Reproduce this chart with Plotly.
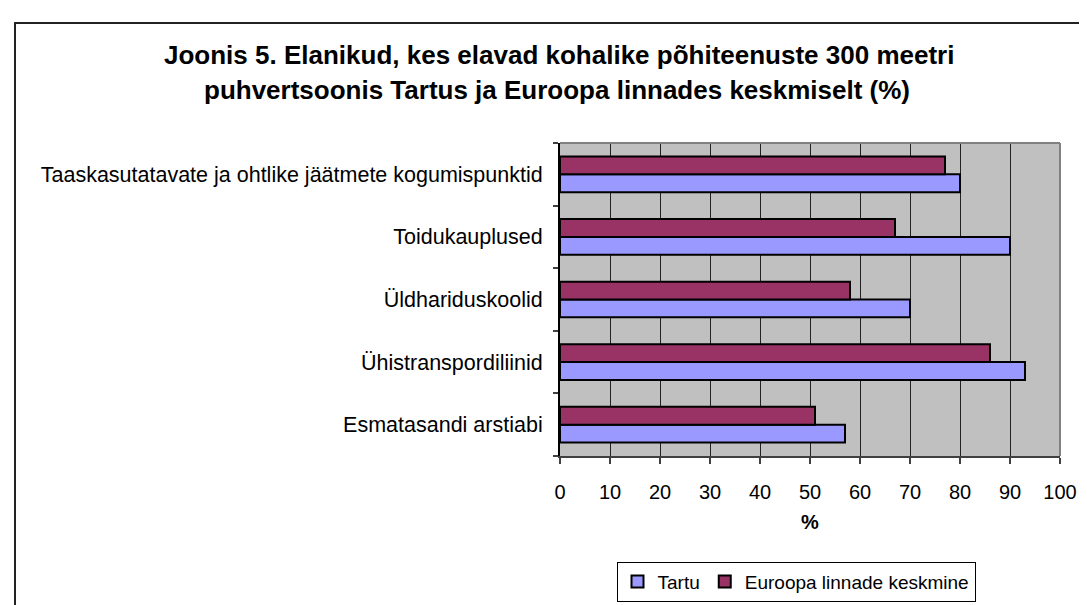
import plotly.graph_objects as go

categories = [
    "Esmatasandi arstiabi",
    "Ühistranspordiliinid",
    "Üldhariduskoolid",
    "Toidukauplused",
    "Taaskasutatavate ja ohtlike jäätmete kogumispunktid",
]
tartu = [57, 93, 70, 90, 80]
europe = [51, 86, 58, 67, 77]
x_ticks = [0, 10, 20, 30, 40, 50, 60, 70, 80, 90, 100]

FONT = "Arial, 'Liberation Sans', sans-serif"

fig = go.Figure()
fig.add_trace(go.Bar(
    y=categories, x=tartu, orientation="h", name="Tartu",
    marker=dict(color="#9999FF", line=dict(color="#000000", width=2)),
))
fig.add_trace(go.Bar(
    y=categories, x=europe, orientation="h", name="Euroopa linnade keskmine",
    marker=dict(color="#993366", line=dict(color="#000000", width=2)),
))

# pixel helpers (plot area: x 552..1052, y 135..461)
def px(xp):
    return (xp - 552) / 500.0

def py(yp):
    return (461 - yp) / 326.0

fig.update_layout(
    width=1087, height=605,
    margin=dict(l=552, r=35, t=135, b=144, pad=0),
    paper_bgcolor="white",
    plot_bgcolor="#C0C0C0",
    barmode="group",
    bargap=0.43,
    bargroupgap=0,
    font=dict(family=FONT, size=20, color="#000000"),
    showlegend=True,
    legend=dict(
        orientation="h",
        x=px(788), xanchor="center",
        y=py(571), yanchor="top",
        bordercolor="#000000", borderwidth=1,
        bgcolor="white",
        font=dict(family=FONT, size=19),
        traceorder="normal",
        itemwidth=30,
        tracegroupgap=0,
    ),
    xaxis=dict(
        range=[0, 100],
        tickvals=x_ticks,
        ticks="outside", ticklen=6, tickcolor="#404040", tickwidth=1.5,
        showgrid=True, gridcolor="#222222", gridwidth=1,
        showline=True, linecolor="#404040", linewidth=2,
        zeroline=False,
        ticklabelstandoff=11,
        tickfont=dict(family=FONT, size=20),
        fixedrange=True,
    ),
    yaxis=dict(
        tickson="boundaries",
        ticks="outside", ticklen=5, tickcolor="#404040", tickwidth=1.5,
        showgrid=False,
        showline=True, linecolor="#000000", linewidth=2,
        ticklabelstandoff=11,
        tickfont=dict(family=FONT, size=21.5),
        fixedrange=True,
    ),
    annotations=[
        dict(text="<b>Joonis 5. Elanikud, kes elavad kohalike põhiteenuste 300 meetri</b>",
             xref="paper", yref="paper", x=px(551), y=py(43),
             xanchor="center", yanchor="middle", showarrow=False,
             font=dict(family=FONT, size=26)),
        dict(text="<b>puhvertsoonis Tartus ja Euroopa linnades keskmiselt (%)</b>",
             xref="paper", yref="paper", x=px(549), y=py(80),
             xanchor="center", yanchor="middle", showarrow=False,
             font=dict(family=FONT, size=26)),
        dict(text="<b>%</b>",
             xref="paper", yref="paper", x=px(802), y=py(530),
             xanchor="center", yanchor="middle", showarrow=False,
             font=dict(family=FONT, size=20)),
    ],
    shapes=[
        # outer figure border
        dict(type="rect", xref="paper", yref="paper",
             x0=px(7), x1=px(1100), y0=py(620), y1=py(10),
             line=dict(color="#222222", width=2), fillcolor="rgba(0,0,0,0)"),
        # plot area border (top/right gray)
        dict(type="line", xref="paper", yref="paper",
             x0=0, x1=1, y0=1, y1=1, line=dict(color="#808080", width=2)),
        dict(type="line", xref="paper", yref="paper",
             x0=1, x1=1, y0=0, y1=1, line=dict(color="#808080", width=2)),
    ],
)

fig.write_html("out.html")
